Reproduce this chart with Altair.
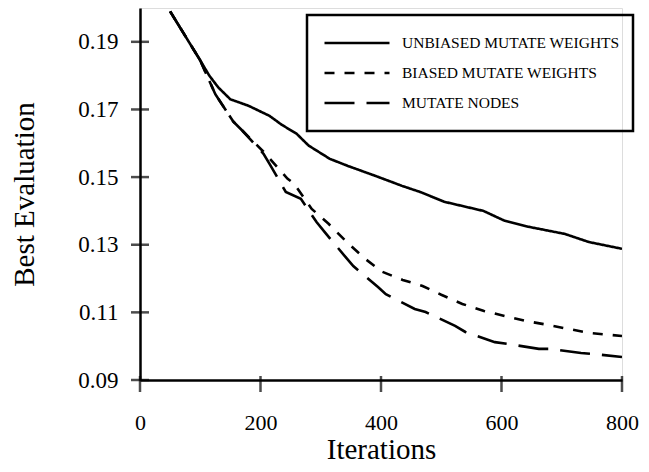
import altair as alt
import pandas as pd

# ---- data ----
series_names = ["UNBIASED MUTATE WEIGHTS", "BIASED MUTATE WEIGHTS", "MUTATE NODES"]

unbiased_x = [50, 100, 115, 130, 150, 180, 215, 235, 260, 280, 315, 345, 390,
              435, 465, 505, 570, 605, 645, 705, 745, 800]
unbiased_y = [0.199, 0.1845, 0.1800, 0.1765, 0.1730, 0.1711, 0.1681, 0.1655,
              0.1628, 0.1593, 0.1554, 0.1533, 0.1504, 0.1474, 0.1456, 0.1427,
              0.1400, 0.1371, 0.1353, 0.1332, 0.1308, 0.1288]

biased_x = [50, 100, 125, 155, 205, 245, 255, 285, 313, 346, 374, 402, 436,
            469, 500, 535, 571, 606, 639, 677, 711, 747, 800]
biased_y = [0.199, 0.1845, 0.1745, 0.1664, 0.1575, 0.1495, 0.1482, 0.1406,
            0.1362, 0.1303, 0.1258, 0.1220, 0.1196, 0.1178, 0.1152, 0.1125,
            0.1104, 0.1089, 0.1075, 0.1063, 0.1051, 0.1039, 0.1030]

nodes_x = [50, 100, 125, 155, 170, 205, 215, 242, 267, 293, 309, 341, 354,
           395, 408, 456, 474, 523, 540, 589, 609, 662, 680, 732, 752, 800]
nodes_y = [0.199, 0.1845, 0.1745, 0.1664, 0.1637, 0.1569, 0.1539, 0.1456,
           0.1436, 0.1367, 0.1332, 0.1264, 0.1237, 0.1175, 0.1154, 0.1110,
           0.1101, 0.1060, 0.1042, 0.1012, 0.1007, 0.0992, 0.0992, 0.0980,
           0.0977, 0.0968]

x_ticks = [0, 200, 400, 600, 800]
y_ticks = [0.09, 0.11, 0.13, 0.15, 0.17, 0.19]

rows = []
for name, xs, ys in zip(series_names, [unbiased_x, biased_x, nodes_x],
                        [unbiased_y, biased_y, nodes_y]):
    for i, (a, b) in enumerate(zip(xs, ys)):
        rows.append({"series": name, "it": a, "val": b, "order": i})
df = pd.DataFrame(rows)

FONT = "Liberation Serif"

xscale = alt.Scale(domain=[0, 800], nice=False, zero=False)
yscale = alt.Scale(domain=[0.09, 0.2], nice=False, zero=False)

lines = alt.Chart(df).mark_line(color="black", strokeWidth=2.6, clip=True).encode(
    x=alt.X("it:Q", scale=xscale,
            axis=alt.Axis(title="Iterations", values=x_ticks, format="d",
                          grid=False, ticks=False, tickSize=0,
                          domainColor="black", domainWidth=2.5,
                          labelFont=FONT, labelFontSize=22, labelColor="black",
                          labelPadding=32, labelFlush=False,
                          titleFont=FONT, titleFontSize=29, titleFontWeight="normal",
                          titleColor="black", titleY=78, titleBaseline="alphabetic")),
    y=alt.Y("val:Q", scale=yscale,
            axis=alt.Axis(title="Best Evaluation", values=y_ticks, format=".2f",
                          grid=False, ticks=False, tickSize=0,
                          domainColor="black", domainWidth=2.5,
                          labelFont=FONT, labelFontSize=23, labelColor="black",
                          labelPadding=22, labelFlush=False,
                          titleFont=FONT, titleFontSize=29, titleFontWeight="normal",
                          titleColor="black", titleX=-116, titleY=186,
                          titleAngle=-90, titleAlign="center",
                          titleBaseline="middle")),
    strokeDash=alt.StrokeDash(
        "series:N",
        scale=alt.Scale(domain=series_names, range=[[1, 0], [10, 10], [30, 12]]),
        legend=alt.Legend(
            title=None, orient="none", legendX=167, legendY=7,
            strokeColor="black", padding=13, symbolOffset=3,
            symbolType="stroke", symbolSize=4225, symbolStrokeWidth=2.6,
            symbolStrokeColor="black", clipHeight=30, rowPadding=0,
            labelFont=FONT, labelFontSize=15.5, labelColor="black",
            labelOffset=11, labelLimit=400,
        ),
    ),
    order="order:Q",
)

ytick_df = pd.DataFrame({"v": y_ticks, "z": [0] * len(y_ticks)})
xtick_df = pd.DataFrame({"v": x_ticks, "z": [0.09] * len(x_ticks)})

yticks = alt.Chart(ytick_df).mark_tick(orient="horizontal", size=18, thickness=2.5,
                                       color="black").encode(
    x=alt.X("z:Q", scale=xscale), y=alt.Y("v:Q", scale=yscale))
xticks = alt.Chart(xtick_df).mark_tick(orient="vertical", size=16, thickness=2.5,
                                       color="black", yOffset=4).encode(
    x=alt.X("v:Q", scale=xscale), y=alt.Y("z:Q", scale=yscale))

chart = alt.layer(lines, yticks, xticks).properties(
    width=482, height=372,
    autosize=alt.AutoSizeParams(type="none"),
    padding={"left": 132, "top": 0, "right": 19, "bottom": 84},
).configure_view(stroke=None).configure(background="white").configure_legend(
    strokeWidth=2.5)

chart.save("out.html", embed_options={"renderer": "svg", "actions": False})
